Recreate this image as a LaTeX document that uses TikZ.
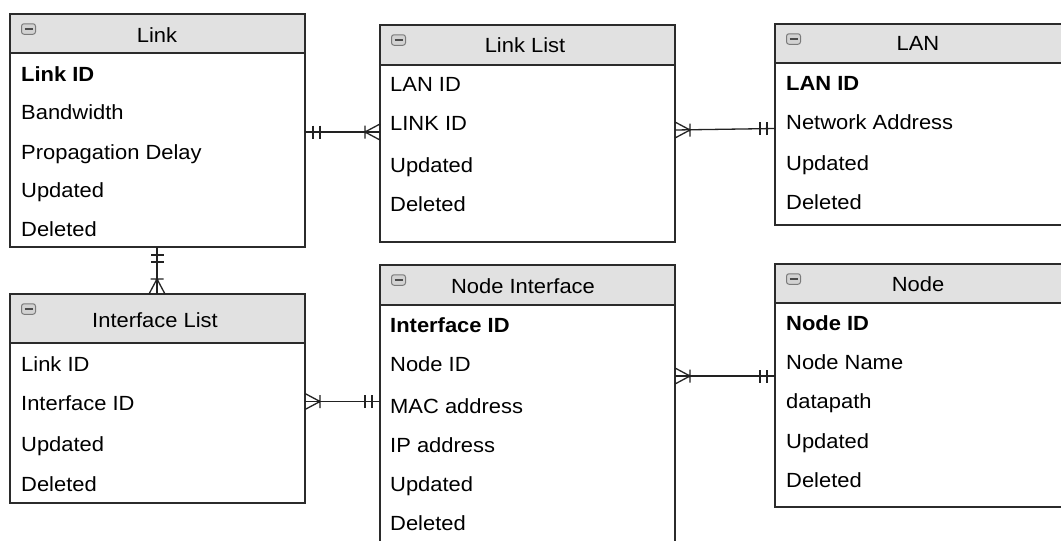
\documentclass[tikz,border=0pt]{standalone}
\usepackage{fontspec}
\setmainfont{Liberation Sans}[FakeStretch=1.07]
\usetikzlibrary{calc}
\definecolor{headgray}{HTML}{E1E1E1}
\definecolor{boxline}{HTML}{2B2B2B}
\definecolor{icongray}{HTML}{D2D2D2}
\definecolor{iconline}{HTML}{7A7A7A}
\definecolor{connline}{HTML}{222222}
\begin{document}
\begin{tikzpicture}[x=1pt,y=-1pt,
  font=\fontsize{20.5}{24}\selectfont,
  box/.style={draw=boxline, line width=1.4pt, fill=white, anchor=north west, inner sep=0pt, outer sep=0pt},
  head/.style={draw=boxline, line width=1.4pt, fill=headgray, anchor=north west, inner sep=0pt, outer sep=0pt},
  ttl/.style={inner sep=0pt, anchor=base, text=black},
  row/.style={inner sep=0pt, anchor=base west, text=black},
  keyrow/.style={row, font=\fontsize{20.5}{24}\selectfont\bfseries},
  icon/.style={draw=iconline, fill=icongray, rounded corners=2.5pt, minimum width=14pt, minimum height=10.5pt, inner sep=0pt, line width=1pt,
    path picture={\draw[line width=2pt, boxline!85] ([xshift=-4pt]path picture bounding box.center) -- ([xshift=4pt]path picture bounding box.center);}},
  conn/.style={draw=connline, line width=1.3pt},
  pics/erone/.style={code={\draw[conn] (8,-6.5) -- (8,6.5) (15,-6.5) -- (15,6.5);}},
  pics/ermany/.style={code={\draw[conn] (15,-6.5) -- (15,6.5) (0,-8) -- (15,0) -- (0,8);}}
]
\useasboundingbox (0,0) rectangle (1061,541);
\clip (0,0) rectangle (1061,541);

% ---------- Link ----------
\node[box, minimum width=295pt, minimum height=233pt] (link) at (10,14) {};
\node[head, minimum width=295pt, minimum height=39pt] (linkh) at (10,14) {};
\node[icon] (linki) at ($(linkh.north west)+(18.5,15)$) {};
\node[ttl] (linkt) at (157,42) {Link};
\node[keyrow] (link1) at (21,81) {Link ID};
\node[row] (link2) at (21,119) {Bandwidth};
\node[row] (link3) at (21,159) {Propagation Delay};
\node[row] (link4) at (21,197) {Updated};
\node[row] (link5) at (21,236) {Deleted};

% ---------- Link List ----------
\node[box, minimum width=295pt, minimum height=217pt] (ll) at (380,25) {};
\node[head, minimum width=295pt, minimum height=40pt] (llh) at (380,25) {};
\node[icon] (lli) at ($(llh.north west)+(18.5,15)$) {};
\node[ttl] (llt) at (525,52) {Link List};
\node[row] (ll1) at (390,91) {LAN ID};
\node[row] (ll2) at (390,130) {LINK ID};
\node[row] (ll3) at (390,172) {Updated};
\node[row] (ll4) at (390,211) {Deleted};

% ---------- LAN ----------
\node[box, minimum width=300pt, minimum height=201pt] (lan) at (775,24) {};
\node[head, minimum width=300pt, minimum height=39pt] (lanh) at (775,24) {};
\node[icon] (lani) at ($(lanh.north west)+(18.5,15)$) {};
\node[ttl] (lant) at (918,50) {LAN};
\node[keyrow] (lan1) at (786,90) {LAN ID};
\node[row] (lan2) at (786,129) {Network Address};
\node[row] (lan3) at (786,170) {Updated};
\node[row] (lan4) at (786,209) {Deleted};

% ---------- Interface List ----------
\node[box, minimum width=295pt, minimum height=209pt] (il) at (10,294) {};
\node[head, minimum width=295pt, minimum height=49pt] (ilh) at (10,294) {};
\node[icon] (ili) at ($(ilh.north west)+(18.5,15)$) {};
\node[ttl] (ilt) at (155,327) {Interface List};
\node[row] (il1) at (21,371) {Link ID};
\node[row] (il2) at (21,410) {Interface ID};
\node[row] (il3) at (21,451) {Updated};
\node[row] (il4) at (21,491) {Deleted};

% ---------- Node Interface ----------
\node[box, minimum width=295pt, minimum height=290pt] (ni) at (380,265) {};
\node[head, minimum width=295pt, minimum height=40pt] (nih) at (380,265) {};
\node[icon] (nii) at ($(nih.north west)+(18.5,15)$) {};
\node[ttl] (nit) at (523,293) {Node Interface};
\node[keyrow] (ni1) at (390,332) {Interface ID};
\node[row] (ni2) at (390,371) {Node ID};
\node[row] (ni3) at (390,413) {MAC address};
\node[row] (ni4) at (390,452) {IP address};
\node[row] (ni5) at (390,491) {Updated};
\node[row] (ni6) at (390,530) {Deleted};

% ---------- Node ----------
\node[box, minimum width=300pt, minimum height=243pt] (nd) at (775,264) {};
\node[head, minimum width=300pt, minimum height=39pt] (ndh) at (775,264) {};
\node[icon] (ndi) at ($(ndh.north west)+(18.5,15)$) {};
\node[ttl] (ndt) at (918,291) {Node};
\node[keyrow] (nd1) at (786,330) {Node ID};
\node[row] (nd2) at (786,369) {Node Name};
\node[row] (nd3) at (786,408) {datapath};
\node[row] (nd4) at (786,448) {Updated};
\node[row] (nd5) at (786,487) {Deleted};

% ---------- Connectors ----------
% Link -- Link List
\coordinate (c1a) at (link.east |- 0,132);
\coordinate (c1b) at (ll.west |- 0,132);
\draw[conn] (c1a) -- (c1b);
\pic at (c1a) {erone};
\pic[rotate=180] at (c1b) {ermany};

% Link List -- LAN
\coordinate (c2a) at (ll.east |- 0,130);
\coordinate (c2b) at (lan.west |- 0,128.5);
\draw[conn] (c2a) -- (c2b);
\pic at (c2a) {ermany};
\pic[rotate=180] at (c2b) {erone};

% Link -- Interface List
\coordinate (c3a) at (link.south -| 157,0);
\coordinate (c3b) at (il.north -| 157,0);
\draw[conn] (c3a) -- (c3b);
\pic[rotate=-90] at (c3a) {erone};
\pic[rotate=90] at (c3b) {ermany};

% Interface List -- Node Interface
\coordinate (c4a) at (il.east |- 0,401.5);
\coordinate (c4b) at (ni.west |- 0,401.5);
\draw[conn] (c4a) -- (c4b);
\pic at (c4a) {ermany};
\pic[rotate=180] at (c4b) {erone};

% Node Interface -- Node
\coordinate (c5a) at (ni.east |- 0,376);
\coordinate (c5b) at (nd.west |- 0,376);
\draw[conn] (c5a) -- (c5b);
\pic at (c5a) {ermany};
\pic[rotate=180] at (c5b) {erone};
\end{tikzpicture}
\end{document}
